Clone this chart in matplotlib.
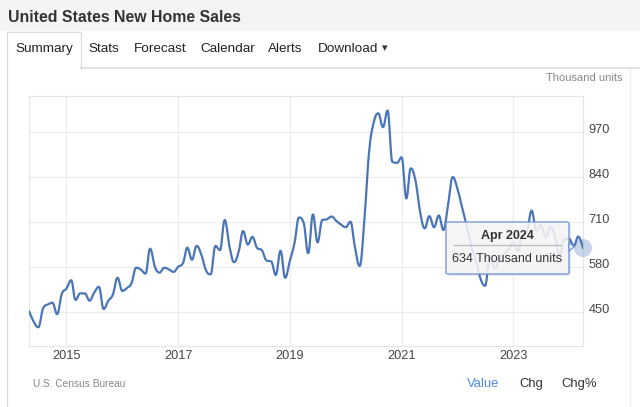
import numpy as np
import pandas as pd
import matplotlib
matplotlib.use("Agg")
import matplotlib.pyplot as plt
import matplotlib.dates as mdates
from matplotlib.patches import Rectangle, FancyBboxPatch, Polygon
from matplotlib.lines import Line2D
from matplotlib.transforms import ScaledTranslation

# Monthly new home sales, thousand units (SAAR), May 2014 - Apr 2024
months = pd.date_range("2014-05-01", periods=120, freq="MS")
sales = [
    452, 421, 405, 460, 471, 476, 443, 501,                            # 2014
    517, 541, 484, 503, 503, 482, 505, 522, 458, 481, 500, 548,        # 2015
    510, 519, 532, 577, 572, 560, 632, 580, 563, 577, 572, 565,        # 2016
    580, 590, 635, 600, 640, 615, 570, 558, 640, 628, 715, 640,        # 2017
    593, 625, 683, 644, 666, 634, 628, 598, 595, 556, 626, 548,        # 2018
    597, 650, 722, 707, 619, 731, 650, 715, 717, 725, 712, 702,        # 2019
    694, 710, 638, 582, 705, 907, 994, 1023, 983, 1031, 883, 880,      # 2020
    896, 777, 864, 830, 740, 691, 726, 694, 728, 686, 760, 839,        # 2021
    805, 750, 700, 640, 600, 545, 525, 610, 575, 600, 615, 630,        # 2022
    650, 625, 675, 685, 742, 685, 700, 665, 695, 665, 615, 660,        # 2023
    660, 640, 667, 634,                                                # 2024
]
y_ticks = [450, 580, 710, 840, 970]
x_tick_years = [2015, 2017, 2019, 2021, 2023]
tabs = ["Summary", "Stats", "Forecast", "Calendar", "Alerts", "Download"]
tab_x = [15, 88, 134, 200, 268, 318]

LINE = "#4a76b8"
W, H = 640, 407


def px(x, y):
    # pixel position (from top-left) -> figure fraction
    return x / W, 1 - y / H


def spline(xs, ys, n=16):
    # Highcharts-like spline (bezier with smoothing 1.5)
    xs = np.asarray(xs, float)
    ys = np.asarray(ys, float)
    k = len(xs)
    lc = np.column_stack([xs, ys]).copy()
    rc = lc.copy()
    for i in range(1, k - 1):
        lx = (1.5 * xs[i] + xs[i - 1]) / 2.5
        ly = (1.5 * ys[i] + ys[i - 1]) / 2.5
        rx = (1.5 * xs[i] + xs[i + 1]) / 2.5
        ry = (1.5 * ys[i] + ys[i + 1]) / 2.5
        corr = (ry - ly) * (rx - xs[i]) / (rx - lx) + ys[i] - ry
        ly += corr
        ry += corr
        if ly > max(ys[i - 1], ys[i]):
            ly = max(ys[i - 1], ys[i]); ry = 2 * ys[i] - ly
        elif ly < min(ys[i - 1], ys[i]):
            ly = min(ys[i - 1], ys[i]); ry = 2 * ys[i] - ly
        if ry > max(ys[i], ys[i + 1]):
            ry = max(ys[i], ys[i + 1]); ly = 2 * ys[i] - ry
        elif ry < min(ys[i], ys[i + 1]):
            ry = min(ys[i], ys[i + 1]); ly = 2 * ys[i] - ry
        lc[i] = (lx, ly)
        rc[i] = (rx, ry)
    t = np.linspace(0, 1, n)[1:, None]
    pts = [np.array([[xs[0], ys[0]]])]
    for i in range(k - 1):
        p0 = np.array([xs[i], ys[i]]); p3 = np.array([xs[i + 1], ys[i + 1]])
        p1 = rc[i]; p2 = lc[i + 1]
        seg = ((1 - t) ** 3) * p0 + 3 * ((1 - t) ** 2) * t * p1 + 3 * (1 - t) * t ** 2 * p2 + t ** 3 * p3
        pts.append(seg)
    pts = np.vstack(pts)
    return pts[:, 0], pts[:, 1]


plt.rcParams["font.family"] = ["Liberation Sans", "DejaVu Sans"]

fig = plt.figure(figsize=(6.4, 4.07), dpi=100)
fig.patch.set_facecolor("white")

# header band and tabs
fig.patches.append(Rectangle(px(0, 31), 1, 31 / H, transform=fig.transFigure, facecolor="#f4f4f4", edgecolor="none", zorder=0))
fig.text(*px(8, 18), "United States New Home Sales", fontsize=11.4, fontweight="bold", color="#333333", va="center")
for name, x in zip(tabs, tab_x):
    fig.text(*px(x, 49), name, fontsize=9.7, color="#222222", va="center")
fig.text(*px(382, 48), "\u25be", fontsize=8, color="#333333", va="center")
edge = "#dddddd"
fig.lines.append(Line2D([7 / W, 7 / W, 81 / W, 81 / W], [1 - 407 / H, 1 - 32 / H, 1 - 32 / H, 1 - 68 / H], transform=fig.transFigure, color=edge, lw=0.9))
fig.lines.append(Line2D([81 / W, 1], [1 - 68 / H, 1 - 68 / H], transform=fig.transFigure, color=edge, lw=1.2))
fig.lines.append(Line2D([630 / W, 630 / W], [1 - 68 / H, 0], transform=fig.transFigure, color="#eeeeee", lw=0.9))

fig.text(*px(623, 78), "Thousand units", fontsize=8, color="#888888", ha="right", va="center")

# chart
ax = fig.add_axes([29 / W, 1 - 346 / H, (583 - 29) / W, (346 - 96) / H])
dates = mdates.date2num(months.to_pydatetime())
sx, sy = spline(dates, sales)
ax.plot(sx, sy, color=LINE, lw=1.6, solid_capstyle="round", zorder=3)
ax.scatter([dates[-1]], [sales[-1]], s=170, color=LINE, alpha=0.3, edgecolors="none", clip_on=False, zorder=4)

ax.set_xlim(dates[0], dates[-1])
ax.set_ylim(351, 1073)
ax.set_yticks(y_ticks)
ax.yaxis.tick_right()
ax.set_xticks(mdates.date2num([pd.Timestamp(f"{y}-01-01") for y in x_tick_years]))
ax.set_xticklabels([str(y) for y in x_tick_years])
ax.tick_params(axis="both", length=0, labelsize=9.2, labelcolor="#444444")
ax.tick_params(axis="y", pad=4)
ax.tick_params(axis="x", pad=3)
ax.grid(True, color="#ececec", lw=0.8)
ax.set_axisbelow(True)
for s in ax.spines.values():
    s.set_color("#e6e6e6")
    s.set_linewidth(0.8)
# y labels sit a little above their gridlines
for lbl in ax.get_yticklabels():
    lbl.set_transform(lbl.get_transform() + ScaledTranslation(0, 3 / 100, fig.dpi_scale_trans))

# tooltip
label_date = months[-1].strftime("%b %Y")
label_val = f"{sales[-1]} Thousand units"
fig.patches.append(FancyBboxPatch(px(448, 276), 123 / W, 52 / H, boxstyle="round,pad=0,rounding_size=0.004",
                                  transform=fig.transFigure, facecolor="#000000", alpha=0.08, edgecolor="none", zorder=5))
fig.patches.append(FancyBboxPatch(px(446, 274), 123 / W, 52 / H, boxstyle="round,pad=0,rounding_size=0.004",
                                  transform=fig.transFigure, facecolor="#f7f7f7", alpha=0.88, edgecolor="#7397cf", lw=1.1, zorder=6))
fig.patches.append(Polygon([px(569, 242), px(574, 247), px(569, 251)], closed=True, transform=fig.transFigure,
                           facecolor="#f7f7f7", edgecolor="#7397cf", lw=1.0, zorder=6))
fig.text(*px(507.5, 236), label_date, fontsize=9, fontweight="bold", color="#333333", ha="center", va="center", zorder=7)
fig.lines.append(Line2D([454 / W, 561 / W], [1 - 245 / H, 1 - 245 / H], transform=fig.transFigure, color="#bbbbbb", lw=0.9, zorder=7))
fig.text(*px(507.5, 259), label_val, fontsize=9, color="#333333", ha="center", va="center", zorder=7)

# footer
fig.text(*px(33, 384), "U.S. Census Bureau", fontsize=7.3, color="#888888", va="center")
fig.text(*px(467, 384), "Value", fontsize=9.4, color="#4d8ee0", va="center")
fig.text(*px(519, 384), "Chg", fontsize=9.4, color="#333333", va="center")
fig.text(*px(561, 384), "Chg%", fontsize=9.4, color="#333333", va="center")

fig.savefig("out.png", dpi=100)
